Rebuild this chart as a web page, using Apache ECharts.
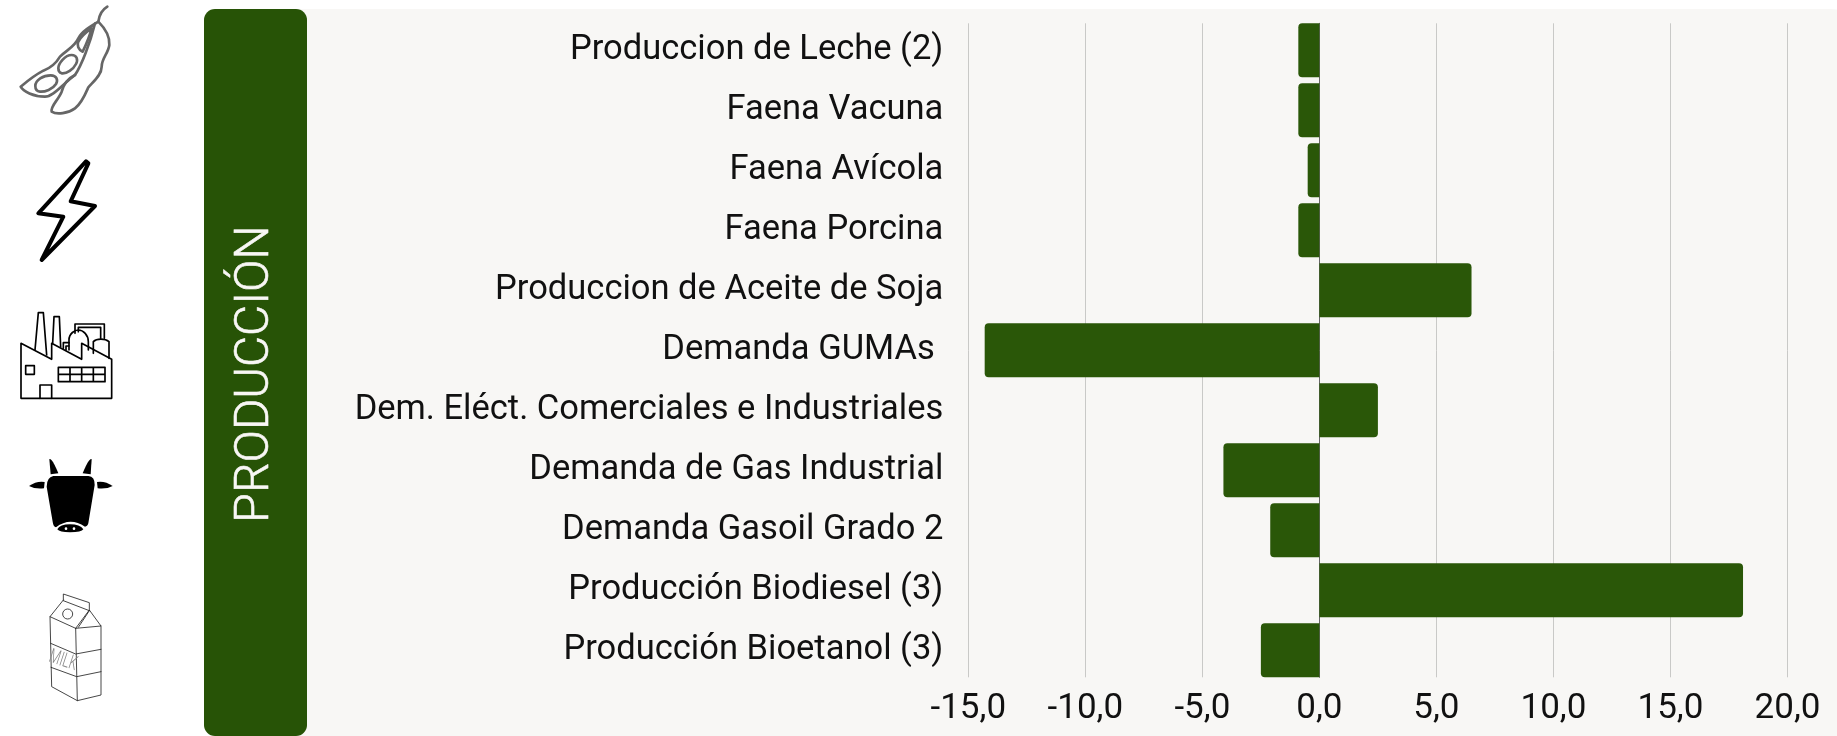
<!DOCTYPE html>
<html><head><meta charset="utf-8">
<script src="https://cdn.jsdelivr.net/npm/echarts@6/dist/echarts.min.js"></script>
<style>html,body{margin:0;padding:0;background:#fff}#c{width:1837px;height:736px}</style>
</head><body><div id="c"></div>
<script>
const categories = ["Produccion de Leche (2)","Faena Vacuna","Faena Avícola","Faena Porcina","Produccion de Aceite de Soja","Demanda GUMAs ","Dem. Eléct. Comerciales e Industriales","Demanda de Gas Industrial","Demanda Gasoil Grado 2","Producción Biodiesel (3)","Producción Bioetanol (3)"];
const values = [-0.9,-0.9,-0.5,-0.9,6.5,-14.3,2.5,-4.1,-2.1,18.1,-2.5];
const sectionTitle = "PRODUCCIÓN";
const GREEN = "#2a5708";
const PANEL = "#f8f7f5";

let shapeCount = 0;
function icon(x, y, children){ return {type:'group', x, y, scaleX:1/3, scaleY:1/3, children}; }
function p(d, lw, stroke, fill){
  const name = 'iconPath' + (shapeCount++);
  echarts.graphic.registerShape(name, echarts.graphic.extendPath(d));
  return {type:name, style:{fill:fill||'none', stroke:stroke||'none', lineWidth:lw||0, lineJoin:'round', lineCap:'round'}};
}

const soy = icon(10,0,[
  p("M292,20 C275,30 268,42 265,65 C285,85 300,110 298,135 C295,160 275,175 275,200 C275,225 250,245 235,262 C225,285 215,310 195,325 C175,340 140,345 125,335 C120,320 145,300 155,275 C160,255 175,235 195,225",8,"#666"),
  p("M265,65 C240,80 215,95 205,115 C195,140 170,150 150,170 C135,195 120,205 100,212 C75,225 50,245 32,260 C40,275 70,290 105,290 C130,290 155,255 195,225 C215,195 240,130 255,70",8,"#666"),
  p("M76,258 C76,240 100,226 122,226 C140,226 145,240 138,252 C128,268 105,276 90,275 C80,274 76,268 76,258 Z",8,"#666"),
  p("M145,205 C145,190 165,165 185,165 C200,165 205,178 198,192 C190,208 170,222 155,220 C148,218 145,212 145,205 Z",8,"#666"),
  p("M205,125 C215,105 230,95 245,85 C240,105 230,130 218,155 C205,150 200,135 205,125 Z",8,"#666")
]);
const bolt = icon(0,0,[ p("M258,484 L115,640 L190,650 L125,780 L285,618 L212,604 L265,490 Z",12,"#000") ]);
const factory = icon(10,300,[
  p("M33,130 L33,295 L305,295 L305,178 L215,130 L215,178 L125,130 L125,178 Z",5,"#000"),
  p("M75,150 L85,38 L100,38 L110,165",5,"#000"),
  p("M128,130 L132,50 L148,50 L152,140",5,"#000"),
  p("M47,197 L73,197 L73,223 L47,223 Z",5,"#000"),
  p("M90,295 L90,255 L125,255 L125,295",5,"#000"),
  p("M145,202 L285,202 L285,245 L145,245 Z M145,223 L285,223 M180,202 L180,245 M215,202 L215,245 M250,202 L250,245",5,"#000"),
  p("M195,100 L195,72 L283,72 L283,115 M205,95 L205,82 L272,82 L272,115",5,"#000"),
  p("M177,150 L177,120 C177,100 195,90 205,90 C220,90 235,105 235,125 L235,150",5,"#000"),
  p("M250,160 L250,125 C260,115 285,115 297,125 L297,175",5,"#000"),
  p("M160,145 L160,128 L177,128 M168,150 L168,138 L177,138",5,"#000")
]);
const cow = icon(0,370,[
  p("M160,318 L265,318 Q285,320 284,345 L265,460 Q262,470 255,470 Q210,440 168,472 Q160,470 158,455 L140,350 Q140,322 160,318 Z",0,null,"#000"),
  p("M172,478 Q180,463 210,463 Q240,463 250,478 Q245,487 210,487 Q178,487 172,478 Z",0,null,"#000"),
  p("M148,268 Q155,262 175,310 L152,313 Z",0,null,"#000"),
  p("M275,268 Q268,262 248,310 L272,313 Z",0,null,"#000"),
  p("M87,348 Q110,332 134,336 L132,355 Q105,358 87,348 Z",0,null,"#000"),
  p("M338,348 Q315,332 291,336 L293,355 Q320,358 338,348 Z",0,null,"#000"),
  {type:'circle', shape:{cx:198,cy:476,r:4}, style:{fill:'#fff'}},
  {type:'circle', shape:{cx:222,cy:476,r:4}, style:{fill:'#fff'}}
]);
const milk = icon(30,580,[
  p("M100,60 L100,42 L178,68 L178,92 L100,62",2.5,"#222"),
  p("M100,60 L60,110 L137,145 L178,90 L213,138 L137,145",2.5,"#222"),
  p("M60,110 L65,320 L142,362 L213,345 L213,138 M137,145 L142,362 M178,92 L145,142",2.5,"#222"),
  p("M62,190 L137,222 L213,208 M63,262 L140,290 L213,275",2.5,"#222"),
  {type:'circle', shape:{cx:113,cy:102,r:15}, style:{fill:'none',stroke:'#222',lineWidth:2.5}},
  {type:'text', x:99, y:243, rotation:-0.32, scaleX:0.62, scaleY:1, style:{text:"MILK", fill:"#888", font:"300 60px Roboto", align:'center', verticalAlign:'middle'}}
]);

const chart = echarts.init(document.getElementById('c'), null, {renderer:'canvas'});
const fmt = v => v.toFixed(1).replace('.', ',');
chart.setOption({
  animation:false,
  backgroundColor:'#fff',
  graphic:{elements:[
    {type:'rect', z:-10, shape:{x:300,y:9,width:1570,height:760,r:[0,40,0,0]}, style:{fill:PANEL}},
    {type:'rect', z:-9, shape:{x:204,y:9,width:103,height:727,r:11}, style:{fill:"#275306"}},
    {type:'text', z:-8, x:256, y:374, rotation:Math.PI/2, style:{text:sectionTitle, fill:PANEL, stroke:PANEL, lineWidth:0.6, font:"300 48px Roboto", align:'center', verticalAlign:'middle'}},
    soy,bolt,factory,cow,milk
  ]},
  grid:[
    {left:968.3, width:819.2, top:20.3, height:660},
    {left:968.3, width:819.2, top:23.3, height:654}
  ],
  xAxis:[
    {gridIndex:0, type:'value', min:-15, max:20, interval:5, show:false},
    {gridIndex:1, type:'value', min:-15, max:20, interval:5, position:'bottom',
      axisLine:{show:false}, axisTick:{show:false},
      splitLine:{show:true, lineStyle:{color:'#c9c9c7', width:1}},
      axisLabel:{formatter:fmt, color:'#111', fontFamily:'Roboto', fontSize:35, margin:14}}
  ],
  yAxis:[
    {gridIndex:0, type:'category', inverse:true, data:categories,
      axisLine:{show:false, onZero:false}, axisTick:{show:false}, splitLine:{show:false},
      axisLabel:{color:'#111', fontFamily:'Roboto', fontSize:34.5, margin:25, interval:0, padding:[4,0,0,0]}},
    {gridIndex:1, type:'value', min:0, max:1, axisLabel:{show:false}, axisTick:{show:false}, splitLine:{show:false},
      axisLine:{show:true, onZero:true, lineStyle:{color:'#666', width:1}}}
  ],
  series:[{
    type:'bar', xAxisIndex:0, yAxisIndex:0, barWidth:54,
    itemStyle:{color:GREEN},
    data:values.map(v=>({value:v, itemStyle:{borderRadius:v<0?[4,0,0,4]:[0,4,4,0]}}))
  }]
});
</script></body></html>
